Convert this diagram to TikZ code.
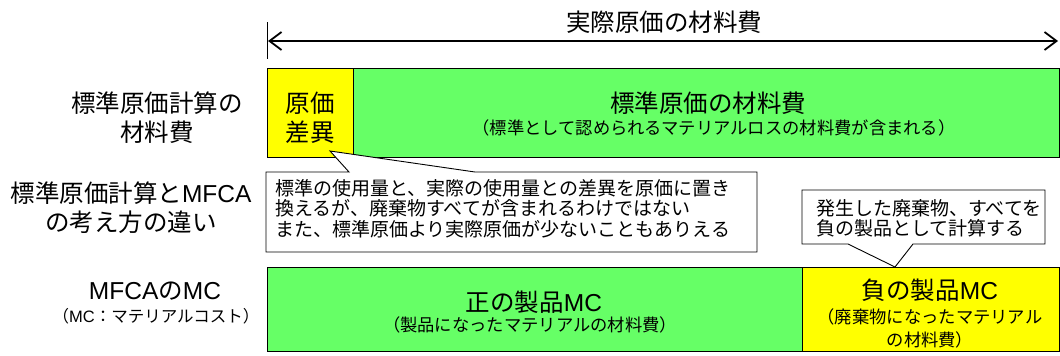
\documentclass[tikz,border=0pt]{standalone}
\usepackage{fontspec}
\setmainfont{Noto Sans CJK JP}
\newfontfamily\lat{Liberation Sans}
\usetikzlibrary{arrows.meta}
\definecolor{grn}{HTML}{66FF66}
\definecolor{yel}{HTML}{FFFF00}
\begin{document}
\begin{tikzpicture}[x=1pt,y=-1pt,
  box/.style={draw=black, line width=0.9pt, inner sep=0pt, anchor=north west},
  big/.style={font=\fontsize{24.5}{29}\selectfont, inner sep=0pt, align=center},
  sub/.style={font=\fontsize{17.3}{23}\selectfont, inner sep=0pt, align=center},
  subs/.style={font=\fontsize{16.5}{23}\selectfont, inner sep=0pt, align=center},
  note/.style={font=\fontsize{19}{20.5}\selectfont, inner sep=0pt, align=left, anchor=west},
  callout/.style={draw=black, fill=white, line width=0.9pt},
  span/.style={line width=1.8pt, {Straight Barb[length=12pt,width=18pt]}-{Straight Barb[length=12pt,width=18pt]}}]
\useasboundingbox (0,0) rectangle (1060,356);
% top span arrow
\coordinate (vt) at (267,22);
\coordinate (vb) at (267,59);
\coordinate (aL) at (268,41);
\coordinate (aR) at (1058,41);
\draw[line width=1pt] (vt) -- (vb);
\draw[span] (aL) -- (aR);
\node[big] (title) at (664,22) {実際原価の材料費};
% row 1
\node[box, fill=yel, minimum width=86pt, minimum height=89pt] (var) at (267,68) {};
\node[box, fill=grn, minimum width=706pt, minimum height=89pt] (std) at (353,68) {};
\node[big] (varT) at (310,117.5) {原価\\差異};
\node[big] (stdT) at (708,103) {標準原価の材料費};
\node[sub] (stdS) at (714,128) {（標準として認められるマテリアルロスの材料費が含まれる）};
\node[big] (lab1) at (157,117.5) {標準原価計算の\\材料費};
% row 3
\node[box, fill=grn, minimum width=535pt, minimum height=84pt] (pos) at (267,267) {};
\node[box, fill=yel, minimum width=257pt, minimum height=84pt] (neg) at (802,267) {};
\node[big] (posT) at (534,302) {正の製品{\lat MC}};
\node[sub] (posS) at (530,325) {（製品になったマテリアルの材料費）};
\node[big] (negT) at (930,290) {負の製品{\lat MC}};
\node[sub] (negS) at (930,328.5) {（廃棄物になったマテリアル\\の材料費）};
\node[big] (lab3) at (155,291) {{\lat MFCA}の{\lat MC}};
\node[subs] (lab3s) at (156,316) {（{\lat MC}：マテリアルコスト）};
% row 2
\node[big] (lab2) at (131,208) {標準原価計算と{\lat MFCA}\\の考え方の違い};
\draw[callout] (266,172) -- (349,172) -- (330,151) -- (475,172) -- (757,172)
  -- (757,252) -- (266,252) -- cycle;
\node[note] (c1) at (275,208.5) {標準の使用量と、実際の使用量との差異を原価に置き\\換えるが、廃棄物すべてが含まれるわけではない\\また、標準原価より実際原価が少ないこともありえる};
\draw[callout] (802,190) -- (1045,190) -- (1045,244) -- (913,244) -- (895,267)
  -- (848,244) -- (802,244) -- cycle;
\node[note] (c2) at (816,218.5) {発生した廃棄物、すべてを\\負の製品として計算する};
\end{tikzpicture}
\end{document}
